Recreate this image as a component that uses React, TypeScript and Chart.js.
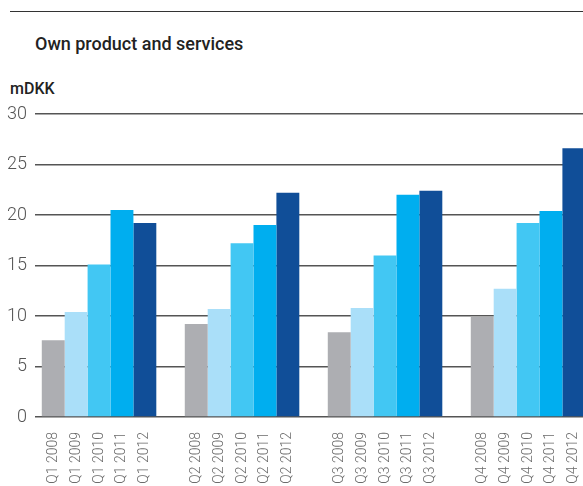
import React, { useEffect, useRef } from "react";
import { Chart, registerables } from "chart.js";

Chart.register(...registerables);

const quarters = ["Q1", "Q2", "Q3", "Q4"];
const years = ["2008", "2009", "2010", "2011", "2012"];
const values2008 = [7.6, 9.2, 8.4, 9.9];
const values2009 = [10.4, 10.7, 10.8, 12.7];
const values2010 = [15.1, 17.2, 16.0, 19.2];
const values2011 = [20.5, 19.0, 22.0, 20.4];
const values2012 = [19.2, 22.2, 22.4, 26.6];
const yTicks = [0, 5, 10, 15, 20, 25, 30];
const colors = ["#adaeb2", "#aadff9", "#42c7f3", "#00aeef", "#104e98"];

const TICK_FONT = "'Roboto', 'DejaVu Sans Condensed', sans-serif";

const barLabelPlugin = {
  id: "barLabels",
  afterDraw(chart: any) {
    const ctx = chart.ctx;
    const area = chart.chartArea;
    ctx.save();
    ctx.fillStyle = "#6b6b6b";
    ctx.font = `300 14px ${TICK_FONT}`;
    ctx.textAlign = "right";
    ctx.textBaseline = "middle";
    years.forEach((yr, di) => {
      const meta = chart.getDatasetMeta(di);
      meta.data.forEach((el: any, qi: number) => {
        ctx.save();
        ctx.translate(el.x, area.bottom + 15);
        ctx.rotate(-Math.PI / 2);
        ctx.fillText(`${quarters[qi]} ${yr}`, 0, 0);
        ctx.restore();
      });
    });
    ctx.restore();
  },
};

export default function App() {
  const ref = useRef<HTMLCanvasElement | null>(null);
  useEffect(() => {
    if (!ref.current) return;
    const series = [values2008, values2009, values2010, values2011, values2012];
    const datasets: any[] = series.map((d, i) => ({
      label: years[i],
      data: d,
      backgroundColor: colors[i],
      borderWidth: 0,
    }));
    datasets.push({ label: "", data: [null, null, null, null], backgroundColor: "transparent" });
    const chart = new Chart(ref.current, {
      type: "bar",
      data: { labels: quarters, datasets },
      options: {
        animation: false,
        responsive: false,
        maintainAspectRatio: false,
        layout: { padding: { top: 114, left: 0, right: 0, bottom: 0 } },
        plugins: { legend: { display: false }, tooltip: { enabled: false } },
        datasets: { bar: { barPercentage: 1, categoryPercentage: 0.961 } },
        scales: {
          x: {
            type: "category",
            offset: true,
            grid: { display: false },
            border: { display: false },
            ticks: { display: false },
            afterFit(scale: any) {
              scale.height = 69;
            },
          },
          y: {
            min: 0,
            max: 30,
            afterBuildTicks(scale: any) {
              scale.ticks = yTicks.map((v) => ({ value: v }));
            },
            grid: {
              color: "#555",
              lineWidth: 1.5,
              drawTicks: true,
              tickLength: 4,
            },
            border: { display: false },
            ticks: {
              color: "#555",
              padding: 8,
              font: { family: TICK_FONT, size: 18, weight: "300" as any },
            },
            afterFit(scale: any) {
              scale.width = 39;
            },
          },
        },
      },
      plugins: [barLabelPlugin],
    });
    return () => chart.destroy();
  }, []);

  return (
    <div
      style={{
        position: "absolute",
        left: 0,
        top: 0,
        width: 583,
        height: 486,
        overflow: "hidden",
        background: "#fff",
      }}
    >
      <div
        style={{
          position: "absolute",
          left: 10,
          top: 11,
          width: 573,
          height: 0,
          borderTop: "1.5px solid #333",
        }}
      />
      <div
        style={{
          position: "absolute",
          left: 35,
          top: 33,
          fontFamily: "'Roboto', sans-serif",
          fontWeight: 500,
          fontSize: 18,
          lineHeight: "21px",
          color: "#222",
          whiteSpace: "nowrap",
        }}
      >
        Own product and services
      </div>
      <div
        style={{
          position: "absolute",
          left: 10,
          top: 79,
          fontFamily: "'Roboto', sans-serif",
          fontWeight: 500,
          fontSize: 16,
          lineHeight: "19px",
          color: "#222",
          whiteSpace: "nowrap",
        }}
      >
        mDKK
      </div>
      <canvas
        ref={ref}
        width={611}
        height={486}
        style={{ position: "absolute", left: 0, top: 0, width: 611, height: 486 }}
      />
    </div>
  );
}
